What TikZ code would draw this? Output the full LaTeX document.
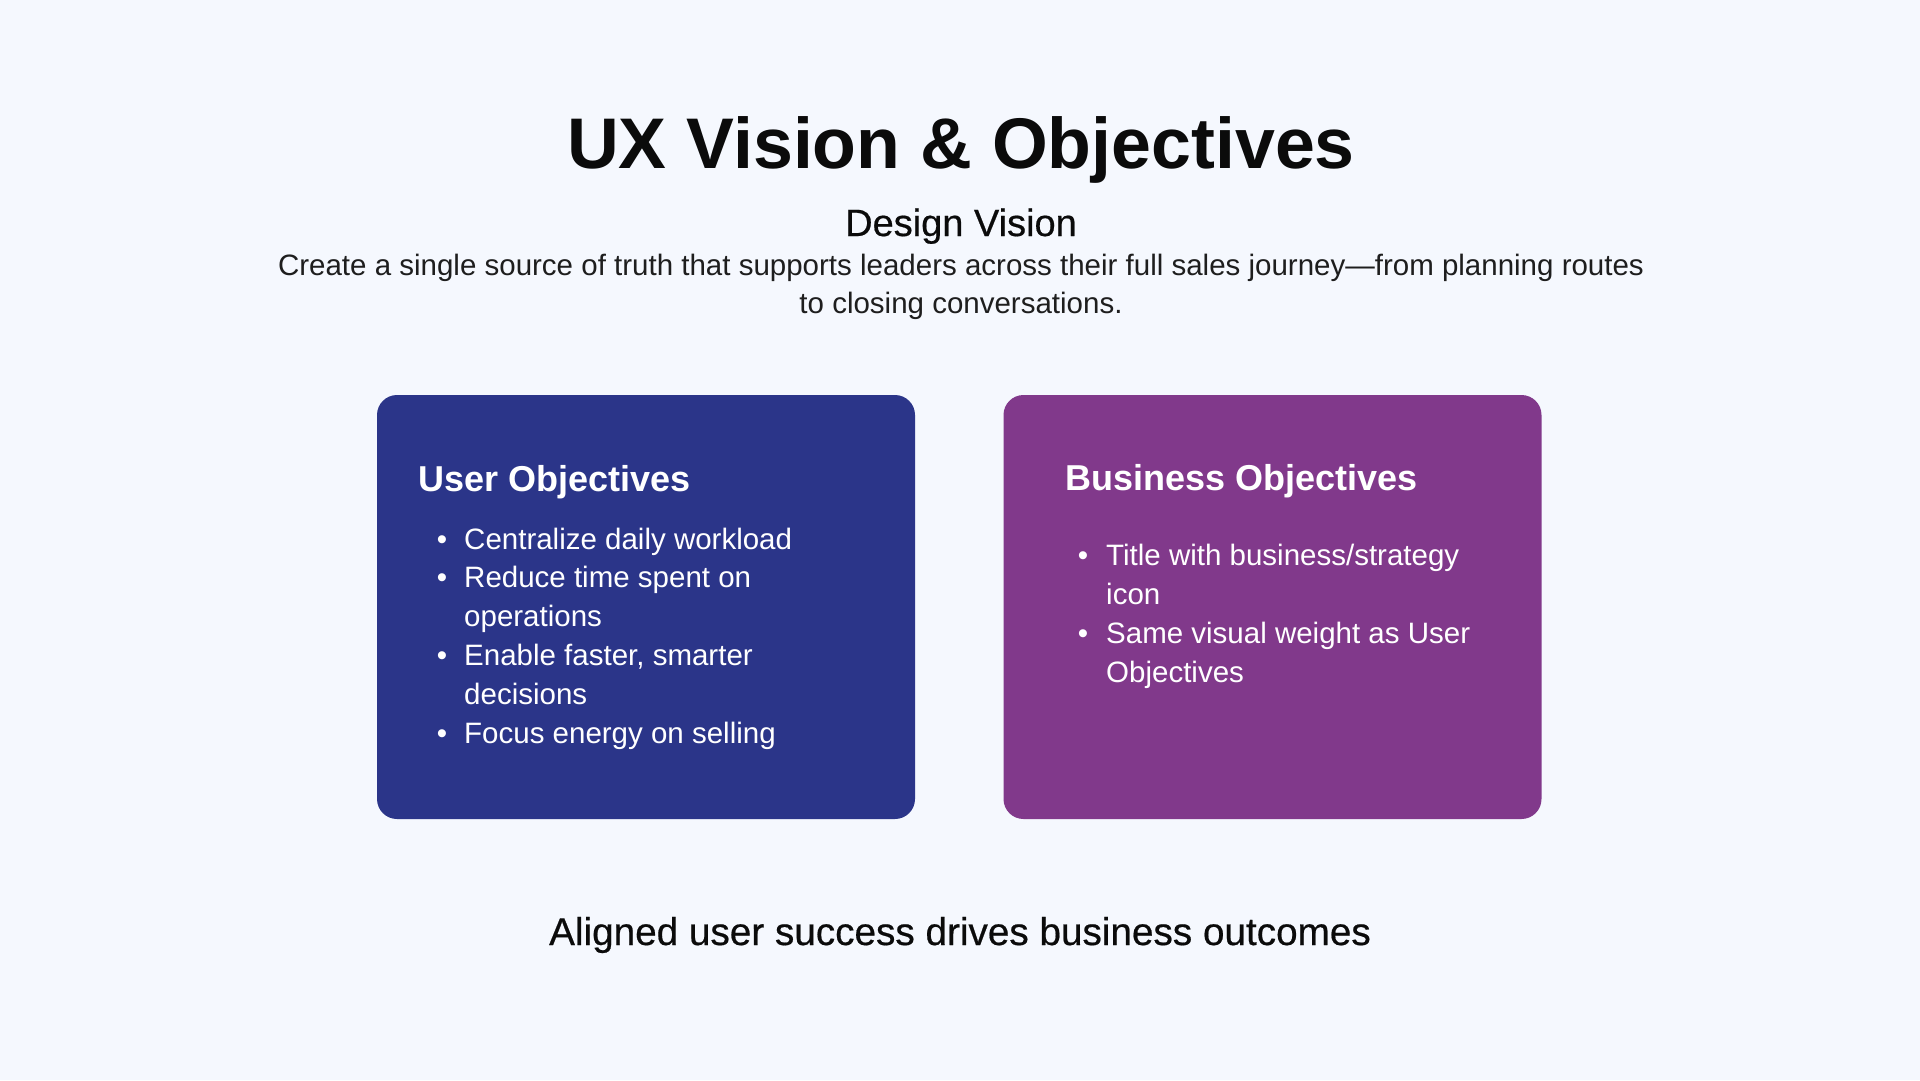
\documentclass[tikz,border=0pt]{standalone}
\usepackage{fontspec}
\setmainfont{Liberation Sans}
\newfontfamily\medfont{Liberation Sans}[FakeBold=0.5]
\usetikzlibrary{positioning}

\definecolor{pagebg}{HTML}{F5F8FE}
\definecolor{userblue}{HTML}{2B3589}
\definecolor{bizpurple}{HTML}{81398B}
\definecolor{inkdark}{HTML}{0B0B0B}
\definecolor{inkbody}{HTML}{1E1E1E}

\tikzset{
  objbox/.style={rounded corners=20pt, minimum width=538pt, minimum height=424pt, inner sep=0pt},
  boxhead/.style={anchor=base west, inner sep=0pt, text=white, font=\fontsize{36}{40}\selectfont\bfseries},
  boxline/.style={anchor=base west, inner sep=0pt, text=white, font=\fontsize{29.5}{38}\selectfont},
  bulletmark/.style={anchor=base, inner sep=0pt, text=white, font=\fontsize{29.5}{38}\selectfont},
  visionline/.style={anchor=base, inner sep=0pt, text=inkbody, font=\fontsize{29.5}{38}\selectfont},
}

\begin{document}
\begin{tikzpicture}[x=1pt, y=-1pt]
    % Page background
    \fill[pagebg] (0,0) rectangle (1920,1080);
    \useasboundingbox (0,0) rectangle (1920,1080);

    % Heading and vision statement
    \node[anchor=base, inner sep=0pt, text=inkdark, font=\fontsize{71.7}{80}\selectfont\bfseries] (title) at (961,168) {UX Vision \& Objectives};
    \node[anchor=base, inner sep=0pt, text=inkdark, font=\medfont\fontsize{38}{44}\selectfont] (vision) at (961,236) {Design Vision};
    \node[visionline] (vision1) at (961,275) {Create a single source of truth that supports leaders across their full sales journey---from planning routes};
    \node[visionline] (vision2) at (961,313) {to closing conversations.};

    % Objective cards
    \node[objbox, fill=userblue] (userbox) at (646,607) {};
    \node[objbox, fill=bizpurple] (bizbox) at (1272.5,607) {};

    % User objectives
    \node[boxhead] (userhead) at (418,491) {User Objectives};
    \foreach \b/\txt [count=\i] in {1/Centralize daily workload, 1/Reduce time spent on, 0/operations, 1/{Enable faster, smarter}, 0/decisions, 1/Focus energy on selling} {
        \pgfmathsetmacro\ybase{549+38.8*(\i-1)}
        \node[boxline] (user\i) at (464,\ybase) {\txt};
        \ifnum\b=1 \node[bulletmark] (userdot\i) at (442,\ybase) {\textbullet}; \fi
    }

    % Business objectives
    \node[boxhead] (bizhead) at (1065,490) {Business Objectives};
    \foreach \b/\txt [count=\i] in {1/{Title with business/strategy}, 0/icon, 1/Same visual weight as User, 0/Objectives} {
        \pgfmathsetmacro\ybase{565+39*(\i-1)}
        \node[boxline] (biz\i) at (1106,\ybase) {\txt};
        \ifnum\b=1 \node[bulletmark] (bizdot\i) at (1083,\ybase) {\textbullet}; \fi
    }

    % Closing statement
    \node[anchor=base, inner sep=0pt, text=inkdark, font=\medfont\fontsize{38.7}{44}\selectfont] (tagline) at (960,945) {Aligned user success drives business outcomes};
\end{tikzpicture}
\end{document}
